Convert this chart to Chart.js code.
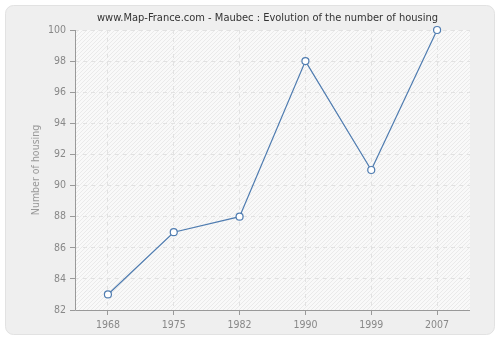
<!DOCTYPE html>
<html>
<head>
<meta charset="utf-8">
<script src="https://cdn.jsdelivr.net/npm/chart.js@4"></script>
<style>
  html, body { margin: 0; padding: 0; background: #fff; }
  #wrap { width: 500px; height: 340px; }
</style>
</head>
<body>
<div id="wrap"><canvas id="myChart" width="500" height="340"></canvas></div>
<script>
const years = ["1968", "1975", "1982", "1990", "1999", "2007"];
const housing = [83, 87, 88, 98, 91, 100];
const yTicks = [82, 84, 86, 88, 90, 92, 94, 96, 98, 100];
const chartTitle = "www.Map-France.com - Maubec : Evolution of the number of housing";

const FONT = "'DejaVu Sans Condensed', 'DejaVu Sans', sans-serif";

// panel + hatched plot background
const backdrop = {
  id: "backdrop",
  beforeDraw(chart) {
    const c = chart.ctx;
    const a = chart.chartArea;
    c.save();
    c.fillStyle = "#ffffff";
    c.fillRect(0, 0, chart.width, chart.height);
    // rounded grey panel
    const x = 5.5, y = 5.5, w = 489, h = 329, r = 8;
    c.beginPath();
    c.moveTo(x + r, y);
    c.arcTo(x + w, y, x + w, y + h, r);
    c.arcTo(x + w, y + h, x, y + h, r);
    c.arcTo(x, y + h, x, y, r);
    c.arcTo(x, y, x + w, y, r);
    c.closePath();
    c.fillStyle = "#efefef";
    c.fill();
    c.strokeStyle = "#e2e2e2";
    c.lineWidth = 1;
    c.stroke();
    // plot area
    c.fillStyle = "#f9f9f9";
    c.fillRect(a.left, a.top, a.right - a.left, a.bottom - a.top);
    c.beginPath();
    c.rect(a.left, a.top, a.right - a.left, a.bottom - a.top);
    c.clip();
    c.strokeStyle = "#eaeaea";
    c.lineWidth = 1;
    const hgt = a.bottom - a.top;
    for (let s = a.left - hgt; s < a.right; s += 4) {
      c.beginPath();
      c.moveTo(s, a.bottom);
      c.lineTo(s + hgt, a.top);
      c.stroke();
    }
    c.restore();
    // title, centred over the plot area
    c.save();
    c.fillStyle = "#333333";
    c.font = "11px " + FONT;
    c.textAlign = "center";
    c.textBaseline = "middle";
    c.fillText(chartTitle, (a.left + a.right) / 2 - 5, 18);
    c.restore();
  }
};

// solid axis lines on top of dashed grid
const axisLines = {
  id: "axisLines",
  afterDatasetsDraw(chart) {
    const c = chart.ctx;
    const a = chart.chartArea;
    c.save();
    c.strokeStyle = "#999999";
    c.lineWidth = 1;
    c.beginPath();
    c.moveTo(a.left + 0.5, a.top);
    c.lineTo(a.left + 0.5, a.bottom + 0.5);
    c.lineTo(a.right, a.bottom + 0.5);
    c.stroke();
    c.restore();
  }
};

new Chart(document.getElementById("myChart"), {
  type: "line",
  data: {
    labels: years,
    datasets: [{
      label: "Number of housing",
      data: housing,
      borderColor: "#4f7cb0",
      borderWidth: 1.2,
      backgroundColor: "#ffffff",
      pointBackgroundColor: "#ffffff",
      pointBorderColor: "#4f7cb0",
      pointBorderWidth: 1.2,
      pointRadius: 3.5,
      tension: 0,
      fill: false,
      clip: false
    }]
  },
  options: {
    responsive: false,
    animation: false,
    devicePixelRatio: 1,
    layout: { padding: { left: 0, right: 30, top: 30, bottom: 0 } },
    plugins: {
      legend: { display: false },
      tooltip: { enabled: false },
      title: { display: false }
    },
    scales: {
      x: {
        offset: true,
        afterFit: (s) => { s.height = 30; },
        grid: {
          display: true,
          offset: false,
          color: "#e2e2e2",
          drawTicks: true,
          tickLength: 5,
          tickColor: "#999999"
        },
        border: { display: false, dash: [4, 4] },
        ticks: {
          color: "#888888",
          font: { family: FONT, size: 10.5 },
          padding: 4,
          maxRotation: 0
        }
      },
      y: {
        min: 82,
        max: 100,
        afterFit: (s) => { s.width = 75; },
        afterBuildTicks: (s) => { s.ticks = yTicks.map(v => ({ value: v })); },
        grid: {
          color: "#e2e2e2",
          tickLength: 5,
          tickColor: "#999999"
        },
        border: { display: false, dash: [4, 4] },
        ticks: {
          color: "#888888",
          font: { family: FONT, size: 10.5 },
          padding: 4
        },
        title: {
          display: true,
          text: "Number of housing",
          color: "#999999",
          font: { family: FONT, size: 10.5 },
          padding: { top: 30, bottom: 0 }
        }
      }
    }
  },
  plugins: [backdrop, axisLines]
});
</script>
</body>
</html>
